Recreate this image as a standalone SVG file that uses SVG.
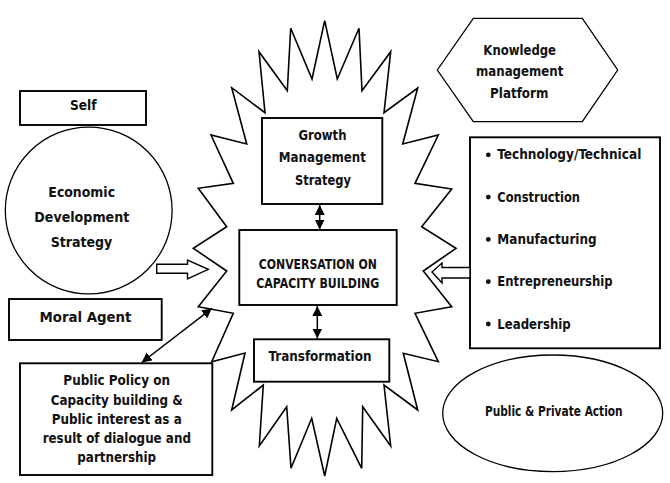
<svg xmlns="http://www.w3.org/2000/svg" width="670" height="483" viewBox="0 0 670 483">
<style>
.s{fill:#fff;stroke:#000;stroke-width:1.6}
.b{fill:#fff;stroke:#000;stroke-width:1.9}
.t{font-family:"DejaVu Sans Condensed","DejaVu Sans",sans-serif;font-stretch:condensed;font-weight:bold;font-size:14px;fill:#111;text-anchor:middle}
.l{text-anchor:start}
.c{fill:none;stroke:#000;stroke-width:1.5}
.h{fill:#fff;stroke:#000;stroke-width:1.4}
</style>
<defs>
<marker id="ah" viewBox="0 0 10 10" refX="10" refY="5" markerWidth="10" markerHeight="10" markerUnits="userSpaceOnUse" orient="auto-start-reverse">
<path d="M0,0 L10,5 L0,10 z" fill="#000"/>
</marker>
</defs>
<rect width="670" height="483" fill="#fff"/>

<g id="starburst">
<polygon class="s" points="324.7,20.7 312,79 290.7,28.3 287.3,90.7 259,51.7 265,112.7 231.7,87.7 246.7,144 211,135 233.3,183.3 198.3,188.3 226.7,226.7 193.3,248.3 226.7,271 198.3,306.7 233.3,313.3 211.7,361.7 245,353 231.7,410 263.3,385 259.3,446 286.7,406.7 291,468.3 311.7,418.3 324.7,476 336.7,418.3 361.7,468.3 362.7,406.7 390.7,446 384,385 417.7,410 403.3,353.3 438.3,361.7 415,313.3 451.7,306.7 423.3,271 456,248.3 421.7,226.7 451.7,189 415,183.3 438.3,135 402.7,144 417.7,88 384,112.7 390.7,51.7 362,90.7 359,28.3 337.3,79"/>
</g>

<g id="self">
<rect class="b" x="20" y="91" width="126" height="34"/>
<text class="t" x="83.3" y="110" textLength="26.7" lengthAdjust="spacingAndGlyphs">Self</text>
</g>

<g id="economic">
<circle class="s" cx="88.7" cy="210.5" r="83.4" style="stroke-width:1.3"/>
<text class="t" x="81.7" y="197.3" textLength="66.7" lengthAdjust="spacingAndGlyphs">Economic</text>
<text class="t" x="81.8" y="222" textLength="95" lengthAdjust="spacingAndGlyphs">Development</text>
<text class="t" x="81.5" y="246.7" textLength="61.7" lengthAdjust="spacingAndGlyphs">Strategy</text>
</g>

<g id="moral">
<rect class="b" x="9" y="299" width="152.7" height="41"/>
<text class="t" x="85.5" y="321.7" textLength="92" lengthAdjust="spacingAndGlyphs">Moral Agent</text>
</g>

<g id="policy">
<rect class="b" x="20" y="363.3" width="192.3" height="111.7"/>
<text class="t" x="116.7" y="385" textLength="106.7" lengthAdjust="spacingAndGlyphs">Public Policy on</text>
<text class="t" x="116.7" y="405" textLength="132" lengthAdjust="spacingAndGlyphs">Capacity building &amp;</text>
<text class="t" x="116.7" y="424.3" textLength="130" lengthAdjust="spacingAndGlyphs">Public interest as a</text>
<text class="t" x="116.8" y="443.3" textLength="148.3" lengthAdjust="spacingAndGlyphs">result of dialogue and</text>
<text class="t" x="116.7" y="461.7" textLength="78.7" lengthAdjust="spacingAndGlyphs">partnership</text>
</g>

<g id="growth">
<rect class="b" x="262" y="118" width="120.3" height="86"/>
<text class="t" x="322.5" y="140" textLength="48" lengthAdjust="spacingAndGlyphs">Growth</text>
<text class="t" x="322.3" y="162" textLength="87" lengthAdjust="spacingAndGlyphs">Management</text>
<text class="t" x="323" y="185" textLength="56" lengthAdjust="spacingAndGlyphs">Strategy</text>
</g>

<g id="conversation">
<rect class="b" x="239.3" y="230" width="157.4" height="75"/>
<text class="t" x="317.8" y="269" textLength="118" lengthAdjust="spacingAndGlyphs">CONVERSATION ON</text>
<text class="t" x="317.7" y="287.7" textLength="123" lengthAdjust="spacingAndGlyphs">CAPACITY BUILDING</text>
</g>

<g id="transformation">
<rect class="b" x="254" y="339.3" width="135.3" height="42.4"/>
<text class="t" x="320" y="361" textLength="103" lengthAdjust="spacingAndGlyphs">Transformation</text>
</g>

<g id="knowledge">
<polygon class="s" style="stroke-width:1.3" points="437.3,70 473.3,18.3 582.3,18.3 617.7,70 582.3,121.7 473.3,121.7"/>
<text class="t" x="519.7" y="55" textLength="72.7" lengthAdjust="spacingAndGlyphs">Knowledge</text>
<text class="t" x="519.7" y="76" textLength="87.3" lengthAdjust="spacingAndGlyphs">management</text>
<text class="t" x="519.2" y="98" textLength="58.3" lengthAdjust="spacingAndGlyphs">Platform</text>
</g>

<g id="sectors">
<rect class="b" x="470" y="137.3" width="190" height="211"/>
<circle cx="488.3" cy="154.8" r="2.4" fill="#111"/>
<circle cx="488.3" cy="197.1" r="2.4" fill="#111"/>
<circle cx="488.3" cy="239.4" r="2.4" fill="#111"/>
<circle cx="488.3" cy="281.7" r="2.4" fill="#111"/>
<circle cx="488.3" cy="324" r="2.4" fill="#111"/>
<text class="t l" x="497.3" y="159.3" textLength="144" lengthAdjust="spacingAndGlyphs">Technology/Technical</text>
<text class="t l" x="497.3" y="202" textLength="82.7" lengthAdjust="spacingAndGlyphs">Construction</text>
<text class="t l" x="497.3" y="243.8" textLength="99.4" lengthAdjust="spacingAndGlyphs">Manufacturing</text>
<text class="t l" x="497.3" y="286" textLength="115.4" lengthAdjust="spacingAndGlyphs">Entrepreneurship</text>
<text class="t l" x="497.3" y="328.5" textLength="73.4" lengthAdjust="spacingAndGlyphs">Leadership</text>
</g>

<g id="action">
<ellipse class="s" style="stroke-width:1.3" cx="552.7" cy="413.3" rx="110" ry="58.3"/>
<text class="t" x="553.8" y="416" textLength="137.7" lengthAdjust="spacingAndGlyphs">Public &amp; Private Action</text>
</g>

<g id="connectors">
<line class="c" x1="319.7" y1="205" x2="319.7" y2="229.5" marker-start="url(#ah)" marker-end="url(#ah)"/>
<line class="c" x1="317.3" y1="306" x2="317.3" y2="338.5" marker-start="url(#ah)" marker-end="url(#ah)"/>
<line class="c" x1="141.7" y1="362.5" x2="212" y2="308.3" marker-start="url(#ah)" marker-end="url(#ah)"/>
<polygon class="h" points="156.7,264.3 187.5,264.3 187.5,260 208.3,269.3 187.5,279 187.5,273.3 156.7,273.3"/>
<polygon class="h" points="470,267.5 442,267.5 442,263 432,272 442,283 442,278 470,278"/>
</g>
</svg>
